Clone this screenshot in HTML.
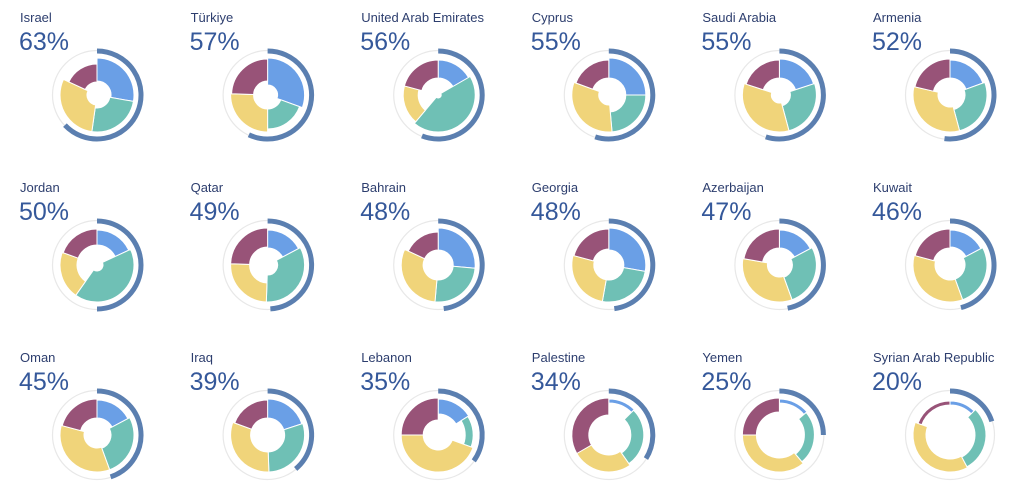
<!DOCTYPE html><html><head><meta charset="utf-8"><style>
body{margin:0;background:#fff;width:1024px;height:495px;overflow:hidden}
svg text{font-family:"Liberation Sans",sans-serif}
</style></head><body>
<svg id="s" width="1024" height="495" xmlns="http://www.w3.org/2000/svg"></svg>
<script>
const C=["#6a9fe6","#6fc0b5","#f0d47a","#985378"];
const D=[
["Israel",63,[[0,100,14,37],[100,188,13,37],[188,295,10,37],[295,360,13,31]]],
["Türkiye",57,[[0,110,10,37],[110,180,14,34],[180,272,14,37],[272,360,14,36]]],
["United Arab Emirates",56,[[0,60,17,35],[60,220,3,37],[220,285,20,35],[285,360,17,35]]],
["Cyprus",55,[[0,90,17,37],[90,175,17,37],[175,290,10,37],[290,360,17,35]]],
["Saudi Arabia",55,[[0,72,17,36],[72,165,11,37],[165,288,8,37],[288,360,17,35]]],
["Armenia",52,[[0,70,17,35],[70,165,15,37],[165,283,12,37],[283,360,17,36]]],
["Jordan",50,[[0,65,20,35],[65,215,6,37],[215,290,20,37],[290,360,20,36]]],
["Qatar",49,[[0,62,17,35],[62,182,10,37],[182,272,18,37],[272,360,18,37]]],
["Bahrain",48,[[0,95,15,37],[95,185,15,37],[185,295,15,37],[295,360,15,33]]],
["Georgia",48,[[0,100,15,37],[100,190,15,37],[190,285,15,37],[285,360,16,36]]],
["Azerbaijan",47,[[0,62,17,35],[62,160,13,37],[160,280,12,37],[280,360,17,36]]],
["Kuwait",46,[[0,62,18,35],[62,160,15,37],[160,285,15,37],[285,360,17,36]]],
["Oman",45,[[0,62,17,35],[62,160,14,37],[160,285,13,37],[285,360,17,36]]],
["Iraq",39,[[0,72,17,36],[72,178,17,37],[178,290,17,37],[290,360,17,35]]],
["Lebanon",35,[[0,58,21,36],[58,110,27,35],[110,270,15,37],[270,360,15,37]]],
["Palestine",34,[[0,45,32,36],[45,145,22,35],[145,240,20,37],[240,360,20,37]]],
["Yemen",25,[[0,50,32,36],[50,140,25,35],[140,270,23,37],[270,360,23,37]]],
["Syrian Arab Republic",20,[[0,45,30,34],[45,152,25,36],[152,290,24,37],[290,360,30,34]]]
];
function p(cx,cy,r,a){a=(a-90)*Math.PI/180;return [cx+r*Math.cos(a),cy+r*Math.sin(a)];}
function seg(cx,cy,a0,a1,r0,r1){const l=(a1-a0)>180?1:0;
const A=p(cx,cy,r1,a0),B=p(cx,cy,r1,a1),E=p(cx,cy,r0,a1),F=p(cx,cy,r0,a0);
return `M${A}A${r1},${r1} 0 ${l} 1 ${B}L${E}A${r0},${r0} 0 ${l} 0 ${F}Z`;}
let h="";
D.forEach((d,i)=>{const c=i%6,r=Math.floor(i/6);const tx=20+c*170.6,cx=tx+77,cy=95+r*170,ty=22+r*170;
h+=`<text x="${tx}" y="${ty}" font-size="13" fill="#2d3e6e">${d[0]}</text>`;
h+=`<text x="${tx-1}" y="${ty+28}" font-size="25" fill="#35589a">${d[1]}%</text>`;
h+=`<circle cx="${cx}" cy="${cy}" r="44.5" fill="none" stroke="#e8e8e8" stroke-width="1.2"/>`;
d[2].forEach((s,k)=>{h+=`<path d="${seg(cx,cy,s[0],s[1],s[2],s[3])}" fill="${C[k]}" stroke="#fff" stroke-width="1"/>`;});
const a=d[1]*3.6,S=p(cx,cy,44,0),E=p(cx,cy,44,a);
h+=`<path d="M${S}A44,44 0 ${a>180?1:0} 1 ${E}" fill="none" stroke="#5b7fb0" stroke-width="5"/>`;
});
document.getElementById("s").innerHTML=h;
</script>
</body></html>
